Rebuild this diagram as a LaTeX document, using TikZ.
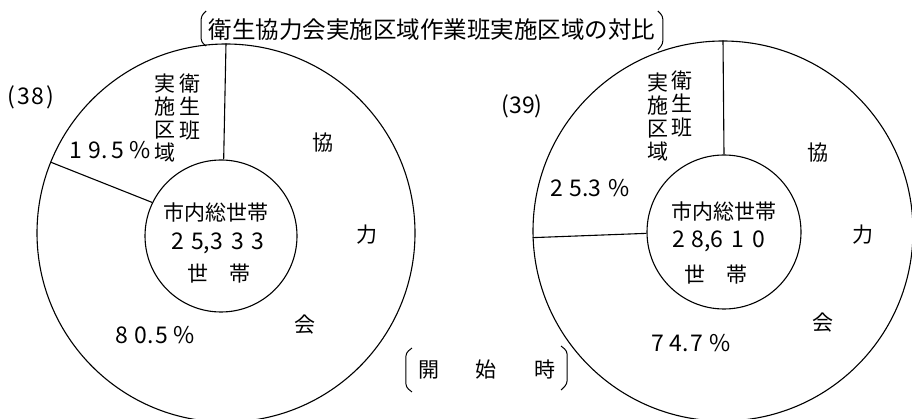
\documentclass[tikz,border=0pt]{standalone}
\usepackage{fontspec}
\setmainfont{Noto Sans CJK JP}
\begin{document}
\begin{tikzpicture}[x=1pt,y=-1pt,line width=1.1pt,
  lbl/.style={inner sep=0pt,font=\fontsize{21}{23}\selectfont},
  num/.style={inner sep=0pt,font=\fontsize{23}{25}\selectfont},
  col/.style={inner sep=0pt,align=center,font=\fontsize{21}{23.3}\selectfont},
  ring/.style={circle,draw,inner sep=0pt},
  brk/.style={line width=1pt,rounded corners=3pt}]
\useasboundingbox (0,0) rectangle (912,419);
% left chart
\node[ring,minimum size=378pt] (L) at (226,233) {};
\node[ring,minimum size=152pt] (Li) at (221,236) {};
\draw (L.90) -- (Li.88);
\draw (L.158) -- (Li.154);
% right chart
\node[ring,minimum size=380pt] (R) at (723,231) {};
\node[ring,minimum size=154pt] (Ri) at (724,232) {};
\draw (R.90) -- (Ri.90);
\draw (R.182) -- (Ri.181);
% title
\node[lbl,font=\fontsize{23.5}{25}\selectfont] (T) at (432,30) {衛生協力会実施区域作業班実施区域の対比};
\draw[brk] ([shift={(-2pt,19pt)}]T.west) -- ([shift={(-7pt,14pt)}]T.west) -- ([shift={(-7pt,-12pt)}]T.west) -- ([shift={(-2pt,-16pt)}]T.west);
\draw[brk] ([shift={(2pt,19pt)}]T.east) -- ([shift={(7pt,14pt)}]T.east) -- ([shift={(7pt,-14pt)}]T.east) -- ([shift={(2pt,-20pt)}]T.east);
% bottom label
\node[lbl] (K) at (487,370) {開\hspace{36pt}始\hspace{38pt}時};
\draw[brk] ([shift={(-6pt,22pt)}]K.west) -- ([shift={(-12pt,17pt)}]K.west) -- ([shift={(-12pt,-17pt)}]K.west) -- ([shift={(-6pt,-22pt)}]K.west);
\draw[brk] ([shift={(5pt,24pt)}]K.east) -- ([shift={(11pt,19pt)}]K.east) -- ([shift={(11pt,-14pt)}]K.east) -- ([shift={(5pt,-20pt)}]K.east);
% left labels
\node[num] (n38) at (31,97) {(\hspace{2pt}3\hspace{1pt}8\hspace{2pt})};
\node[col] (a1) at (190,107) {衛\\生\\班};
\node[col] (a2) at (165,118) {実\\施\\区\\域};
\node[num] (p1) at (110,150) {1\hspace{7pt}9.\hspace{4pt}5\hspace{5pt}\%};
\node[lbl] (k1) at (323,143) {協};
\node[lbl] (k2) at (367,235) {力};
\node[lbl] (k3) at (305,325) {会};
\node[num] (p2) at (155,335) {8\hspace{6pt}0.\hspace{2pt}5\hspace{5pt}\%};
\node[lbl] (c1) at (216,213) {市内総世帯};
\node[num] (c2) at (218,243) {2\hspace{7pt}5,3\hspace{8pt}3\hspace{8pt}3};
\node[lbl] (c3) at (219,274) {世\hspace{22pt}帯};
% right labels
\node[num] (n39) at (522,106) {(39)};
\node[col] (b1) at (682,104) {衛\\生\\班};
\node[col] (b2) at (658,117) {実\\施\\区\\域};
\node[num] (q1) at (590,188) {2\hspace{7pt}5.3\hspace{7pt}\%};
\node[lbl] (m1) at (818,153) {協};
\node[lbl] (m2) at (863,235) {力};
\node[lbl] (m3) at (823,323) {会};
\node[num] (q2) at (691,343) {7\hspace{6pt}4.\hspace{2pt}7\hspace{6pt}\%};
\node[lbl] (d1) at (724,212) {市内総世帯};
\node[num] (d2) at (719,241) {2\hspace{6pt}8,6\hspace{8pt}1\hspace{8pt}0};
\node[lbl] (d3) at (716,275) {世\hspace{22pt}帯};
\end{tikzpicture}
\end{document}
